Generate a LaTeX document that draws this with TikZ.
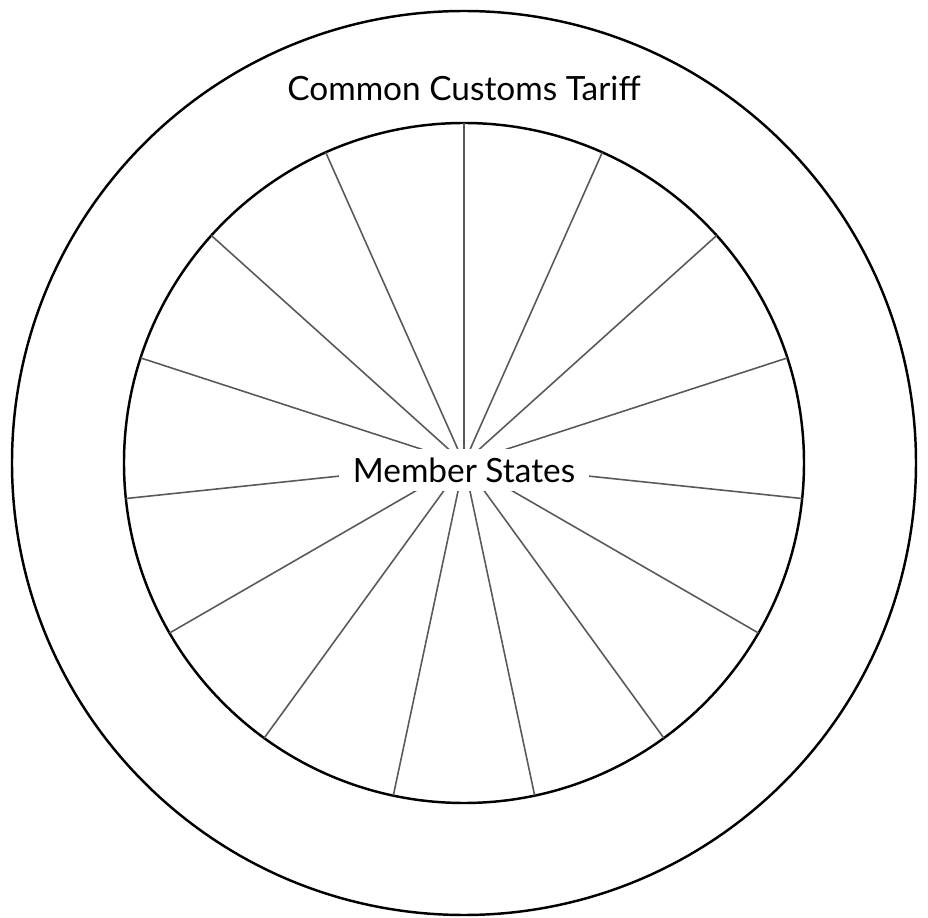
\documentclass[tikz,border=0pt]{standalone}
\usepackage{fontspec}
\setmainfont{Lato}
\usepackage{tikz}

\begin{document}
\begin{tikzpicture}[every node/.style={font=\fontsize{19}{22}\selectfont}]
	\useasboundingbox (-9.28,-9.1) rectangle (9.28,9.26);
	\coordinate (centre) at (0,0);
	\draw[line width=1.4pt] (centre) circle (9.04);
	\draw[line width=1.4pt] (centre) circle (6.8);
	\foreach \a in {0,...,14}
		\draw[black!65, line width=0.9pt] (centre) -- ++({90-24*\a}:6.8);
	\node[fill=white, inner xsep=8pt, inner ysep=5pt] (states) at (0,-0.14) {Member States};
	\node (tariff) at (0,7.5) {Common Customs Tariff};
\end{tikzpicture}
\end{document}
